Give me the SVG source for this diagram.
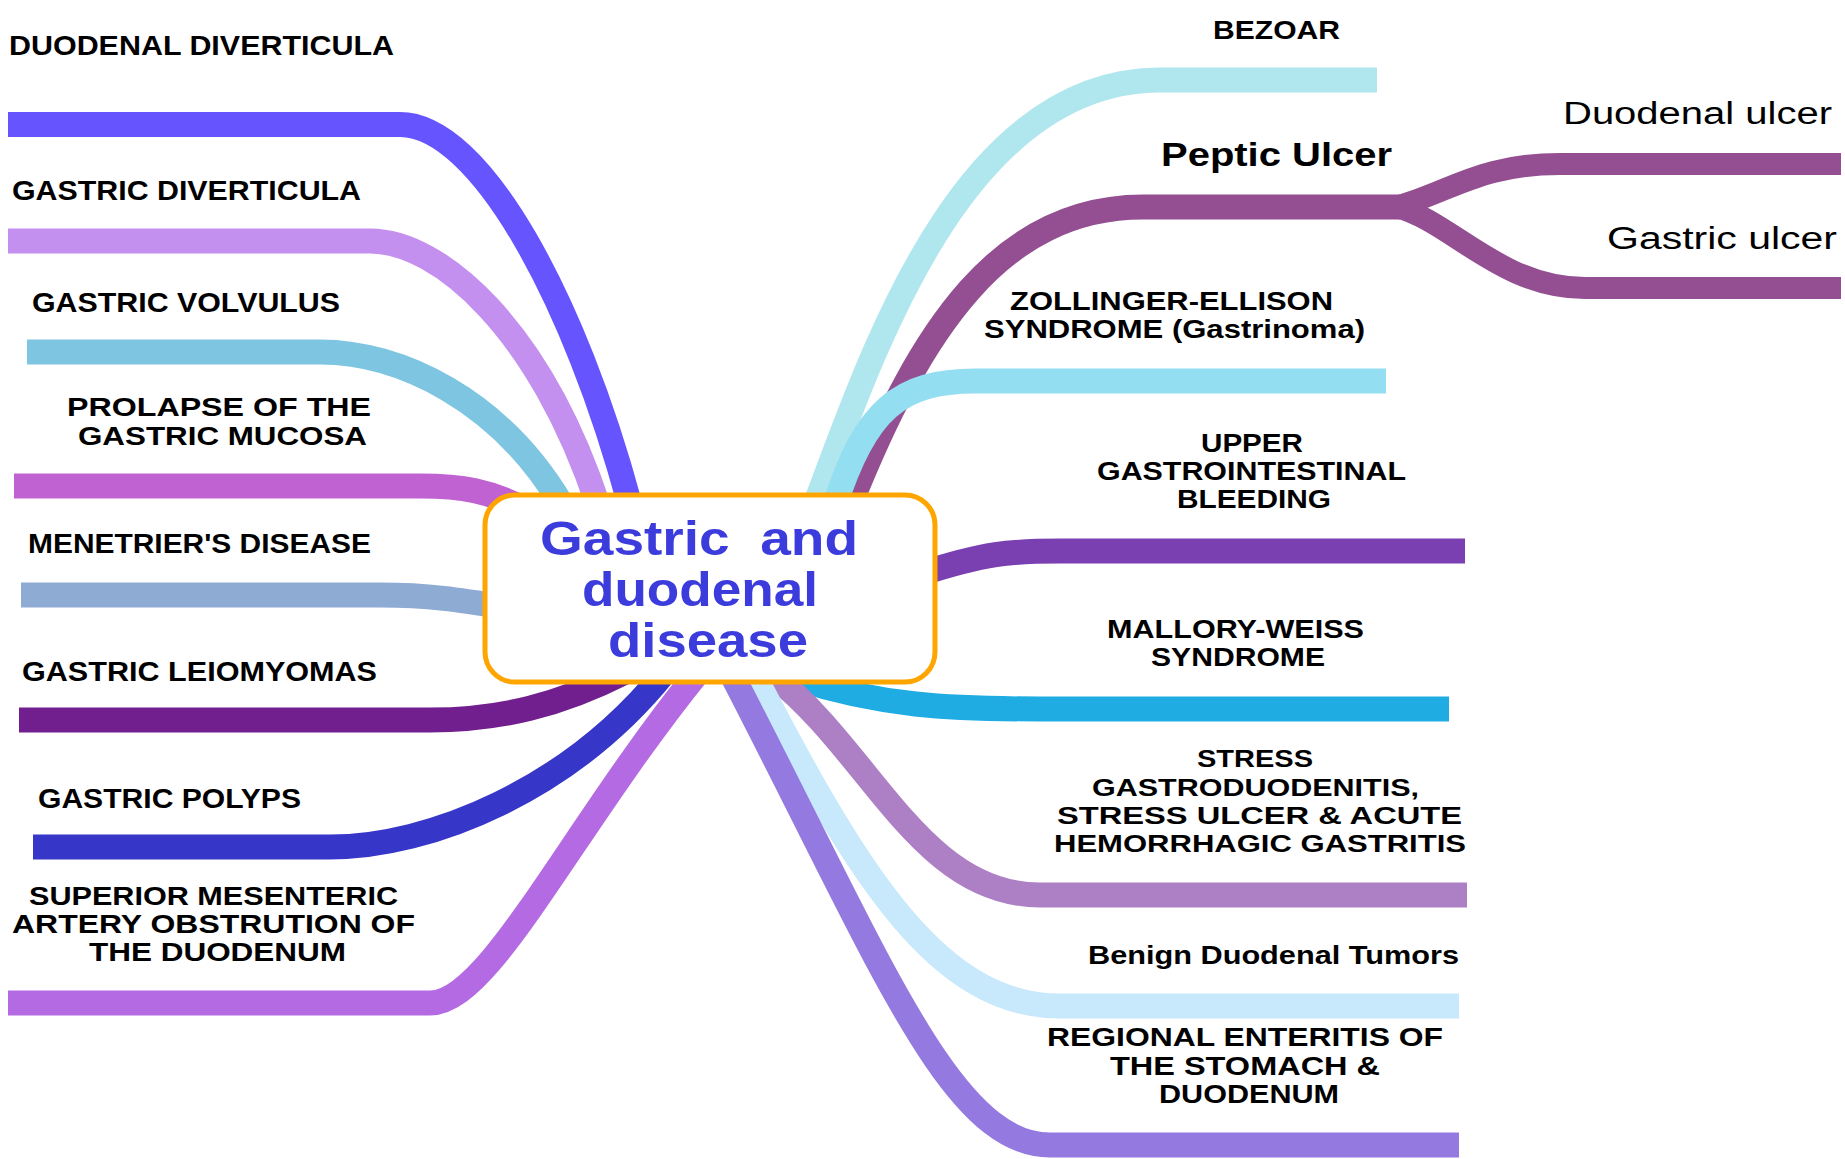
<svg xmlns="http://www.w3.org/2000/svg" width="1845" height="1159" viewBox="0 0 1845 1159">
<style>
.c{fill:none;stroke-linecap:butt;stroke-width:25}
.b{fill:none;stroke-linecap:butt;stroke-width:22}
.t{font-family:"Liberation Sans",Arial,sans-serif;font-weight:bold;fill:#000}
.r{font-family:"Liberation Sans",Arial,sans-serif;font-weight:normal;fill:#000}
.ct{font-family:"Liberation Sans",Arial,sans-serif;font-weight:bold;fill:#3c3cdc;font-size:49px;white-space:pre}
</style>
<rect width="1845" height="1159" fill="#fff"/>
<g id="connectors">
<path class="c" stroke="#6655ff" d="M8 124.5 H400 C480 124.5 575 300 630 505"/>
<path class="c" stroke="#c490f0" d="M8 241 H370 C440 241 540 330 598 505"/>
<path class="c" stroke="#7ec5e1" d="M27 352 H320 C400 352 500 400 562 505"/>
<path class="c" stroke="#c062d2" d="M14 486 H420 C460 486 490 490 530 512"/>
<path class="c" stroke="#8eabd3" d="M21 595 H380 C430 595 460 600 510 608"/>
<path class="c" stroke="#711e8e" d="M19 720 H430 C500 720 560 705 625 672"/>
<path class="c" stroke="#3636c8" d="M33 847 H330 C430 847 570 790 665 672"/>
<path class="c" stroke="#b36ae2" d="M8 1003 H430 C490 1003 570 830 700 670"/>
<path class="c" stroke="#b0e7ee" d="M815 505 C870 360 960 80 1160 80 H1377"/>
<path class="c" stroke="#934f91" d="M850 505 C920 330 1000 207 1143 207 H1400"/>
<path class="b" stroke="#934f91" d="M1396 207 C1450 192 1480 164 1560 164 H1841"/>
<path class="b" stroke="#934f91" d="M1396 207 C1450 220 1500 288 1585 288 H1841"/>
<path class="c" stroke="#93def1" d="M835 505 C865 410 900 381 975 381 H1386"/>
<path class="c" stroke="#7a40b2" d="M920 574 C985 553 1010 551 1060 551 H1465"/>
<path class="c" stroke="#1eace2" d="M795 678 C880 706 950 709 1040 709 H1449"/>
<path class="c" stroke="#ad80c5" d="M772 675 C870 750 920 895 1040 895 H1467"/>
<path class="c" stroke="#c8e8fc" d="M754 675 C860 880 940 1006 1060 1006 H1459"/>
<path class="c" stroke="#9479e0" d="M732 675 C880 960 950 1145 1050 1145 H1459"/>
</g>
<g id="center">
<rect x="485" y="495" width="450" height="187" rx="30" ry="30" fill="#fff" stroke="#ffa500" stroke-width="5"/>
<text class="ct" x="540" y="555" textLength="318" lengthAdjust="spacingAndGlyphs">Gastric  and</text>
<text class="ct" x="582" y="606" textLength="236" lengthAdjust="spacingAndGlyphs">duodenal</text>
<text class="ct" x="608" y="657" textLength="200" lengthAdjust="spacingAndGlyphs">disease</text>
</g>
<g id="n-duodenal-diverticula"><text class="t" font-size="28" x="9" y="55" textLength="385" lengthAdjust="spacingAndGlyphs">DUODENAL DIVERTICULA</text></g>
<g id="n-gastric-diverticula"><text class="t" font-size="28" x="12" y="200" textLength="349" lengthAdjust="spacingAndGlyphs">GASTRIC DIVERTICULA</text></g>
<g id="n-gastric-volvulus"><text class="t" font-size="28" x="32" y="312" textLength="308" lengthAdjust="spacingAndGlyphs">GASTRIC VOLVULUS</text></g>
<g id="n-prolapse"><text class="t" font-size="26" x="67" y="416" textLength="304" lengthAdjust="spacingAndGlyphs">PROLAPSE OF THE</text><text class="t" font-size="26" x="78" y="445" textLength="289" lengthAdjust="spacingAndGlyphs">GASTRIC MUCOSA</text></g>
<g id="n-menetrier"><text class="t" font-size="27" x="28" y="553" textLength="343" lengthAdjust="spacingAndGlyphs">MENETRIER'S DISEASE</text></g>
<g id="n-leiomyomas"><text class="t" font-size="27" x="22" y="681" textLength="355" lengthAdjust="spacingAndGlyphs">GASTRIC LEIOMYOMAS</text></g>
<g id="n-polyps"><text class="t" font-size="27" x="38" y="808" textLength="263" lengthAdjust="spacingAndGlyphs">GASTRIC POLYPS</text></g>
<g id="n-sma"><text class="t" font-size="25" x="29" y="905" textLength="369" lengthAdjust="spacingAndGlyphs">SUPERIOR MESENTERIC</text><text class="t" font-size="25" x="12" y="933" textLength="403" lengthAdjust="spacingAndGlyphs">ARTERY OBSTRUTION OF</text><text class="t" font-size="25" x="89" y="961" textLength="257" lengthAdjust="spacingAndGlyphs">THE DUODENUM</text></g>
<g id="n-bezoar"><text class="t" font-size="26" x="1213" y="39" textLength="127" lengthAdjust="spacingAndGlyphs">BEZOAR</text></g>
<g id="n-peptic"><text class="t" font-size="34" x="1161" y="166" textLength="231" lengthAdjust="spacingAndGlyphs">Peptic Ulcer</text></g>
<g id="n-duodenal-ulcer"><text class="r" font-size="31" x="1563" y="124" textLength="269" lengthAdjust="spacingAndGlyphs">Duodenal ulcer</text></g>
<g id="n-gastric-ulcer"><text class="r" font-size="31" x="1607" y="249" textLength="230" lengthAdjust="spacingAndGlyphs">Gastric ulcer</text></g>
<g id="n-zollinger"><text class="t" font-size="25" x="1010" y="310" textLength="323" lengthAdjust="spacingAndGlyphs">ZOLLINGER-ELLISON</text><text class="t" font-size="25" x="984" y="338" textLength="381" lengthAdjust="spacingAndGlyphs">SYNDROME (Gastrinoma)</text></g>
<g id="n-ugi"><text class="t" font-size="25" x="1201" y="452" textLength="102" lengthAdjust="spacingAndGlyphs">UPPER</text><text class="t" font-size="25" x="1097" y="480" textLength="309" lengthAdjust="spacingAndGlyphs">GASTROINTESTINAL</text><text class="t" font-size="25" x="1177" y="508" textLength="154" lengthAdjust="spacingAndGlyphs">BLEEDING</text></g>
<g id="n-mallory"><text class="t" font-size="25" x="1107" y="638" textLength="257" lengthAdjust="spacingAndGlyphs">MALLORY-WEISS</text><text class="t" font-size="25" x="1151" y="666" textLength="174" lengthAdjust="spacingAndGlyphs">SYNDROME</text></g>
<g id="n-stress"><text class="t" font-size="24" x="1197" y="767" textLength="116" lengthAdjust="spacingAndGlyphs">STRESS</text><text class="t" font-size="24" x="1092" y="796" textLength="327" lengthAdjust="spacingAndGlyphs">GASTRODUODENITIS,</text><text class="t" font-size="24" x="1057" y="824" textLength="405" lengthAdjust="spacingAndGlyphs">STRESS ULCER &amp; ACUTE</text><text class="t" font-size="24" x="1054" y="852" textLength="412" lengthAdjust="spacingAndGlyphs">HEMORRHAGIC GASTRITIS</text></g>
<g id="n-benign"><text class="t" font-size="25" x="1088" y="964" textLength="371" lengthAdjust="spacingAndGlyphs">Benign Duodenal Tumors</text></g>
<g id="n-regional"><text class="t" font-size="25" x="1047" y="1046" textLength="396" lengthAdjust="spacingAndGlyphs">REGIONAL ENTERITIS OF</text><text class="t" font-size="25" x="1110" y="1075" textLength="270" lengthAdjust="spacingAndGlyphs">THE STOMACH &amp;</text><text class="t" font-size="25" x="1159" y="1103" textLength="180" lengthAdjust="spacingAndGlyphs">DUODENUM</text></g>
</svg>
